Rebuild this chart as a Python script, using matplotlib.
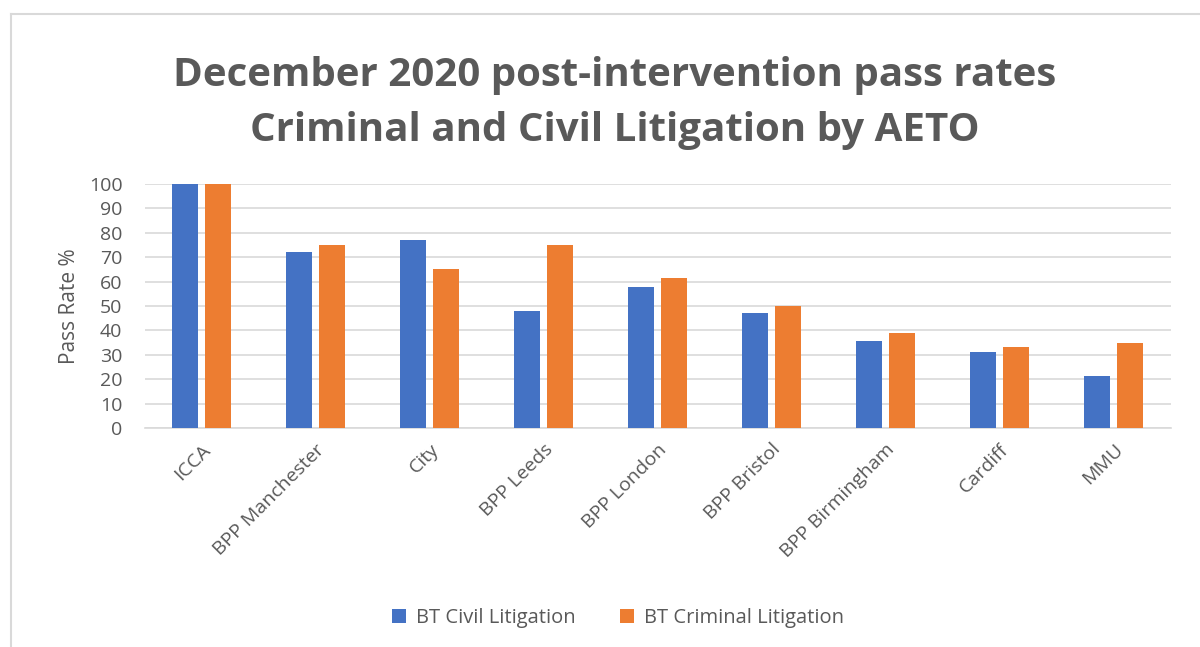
import numpy as np
import matplotlib.pyplot as plt
from matplotlib.lines import Line2D

# data
aetos = ['ICCA', 'BPP Manchester', 'City', 'BPP Leeds', 'BPP London',
         'BPP Bristol', 'BPP Birmingham', 'Cardiff', 'MMU']
civil = [100, 72.2, 77.2, 47.9, 57.6, 47.3, 35.6, 31.3, 21.5]
criminal = [100, 75, 65, 75, 61.3, 50, 39.1, 33.1, 34.7]

blue = '#4472C4'
orange = '#ED7D31'
grey = '#595959'

plt.rcParams['font.family'] = ['Open Sans', 'DejaVu Sans']

fig = plt.figure(figsize=(12, 6.47), dpi=100)
# chart border (left and top edges only visible in the reference)
fig.lines.append(Line2D([0.0092, 0.0092], [0, 0.978], transform=fig.transFigure,
                        color='#d9d9d9', linewidth=1.5))
fig.lines.append(Line2D([0.0092, 1], [0.978, 0.978], transform=fig.transFigure,
                        color='#d9d9d9', linewidth=1.5))

ax = fig.add_axes([0.1205, 0.3385, 0.855, 0.3771])

x = np.arange(len(aetos))
w = 0.23
ax.bar(x - 0.145, civil, w, color=blue, label='BT Civil Litigation', zorder=3)
ax.bar(x + 0.145, criminal, w, color=orange, label='BT Criminal Litigation', zorder=3)

ax.set_xlim(-0.5, len(aetos) - 0.5)
ax.set_ylim(0, 100)
ax.set_yticks(range(0, 101, 10))
ax.yaxis.grid(True, color='#d9d9d9', linewidth=1.2, zorder=0)
for s in ['top', 'right', 'left']:
    ax.spines[s].set_visible(False)
ax.spines['bottom'].set_color('#d9d9d9')
ax.spines['bottom'].set_linewidth(1.2)
ax.tick_params(axis='both', length=0, colors=grey, labelsize=14)
ax.tick_params(axis='y', pad=16)
ax.tick_params(axis='x', pad=9)
ax.set_xticks(x)
ax.set_xticklabels(aetos, rotation=45, ha='right', rotation_mode='anchor')
ax.set_ylabel('Pass Rate %', color=grey, fontsize=15, labelpad=6)

fig.text(0.512, 0.884, 'December 2020 post-intervention pass rates', ha='center', va='center',
         fontsize=29, fontweight='bold', color=grey)
fig.text(0.512, 0.799, 'Criminal and Civil Litigation by AETO', ha='center', va='center',
         fontsize=29, fontweight='bold', color=grey)

fig.legend(loc='center', bbox_to_anchor=(0.515, 0.045), ncol=2, frameon=False,
           fontsize=14.5, handlelength=0.7, handleheight=0.7, columnspacing=2.2,
           handletextpad=0.5, labelcolor=grey)

fig.savefig('out.png', dpi=100)
